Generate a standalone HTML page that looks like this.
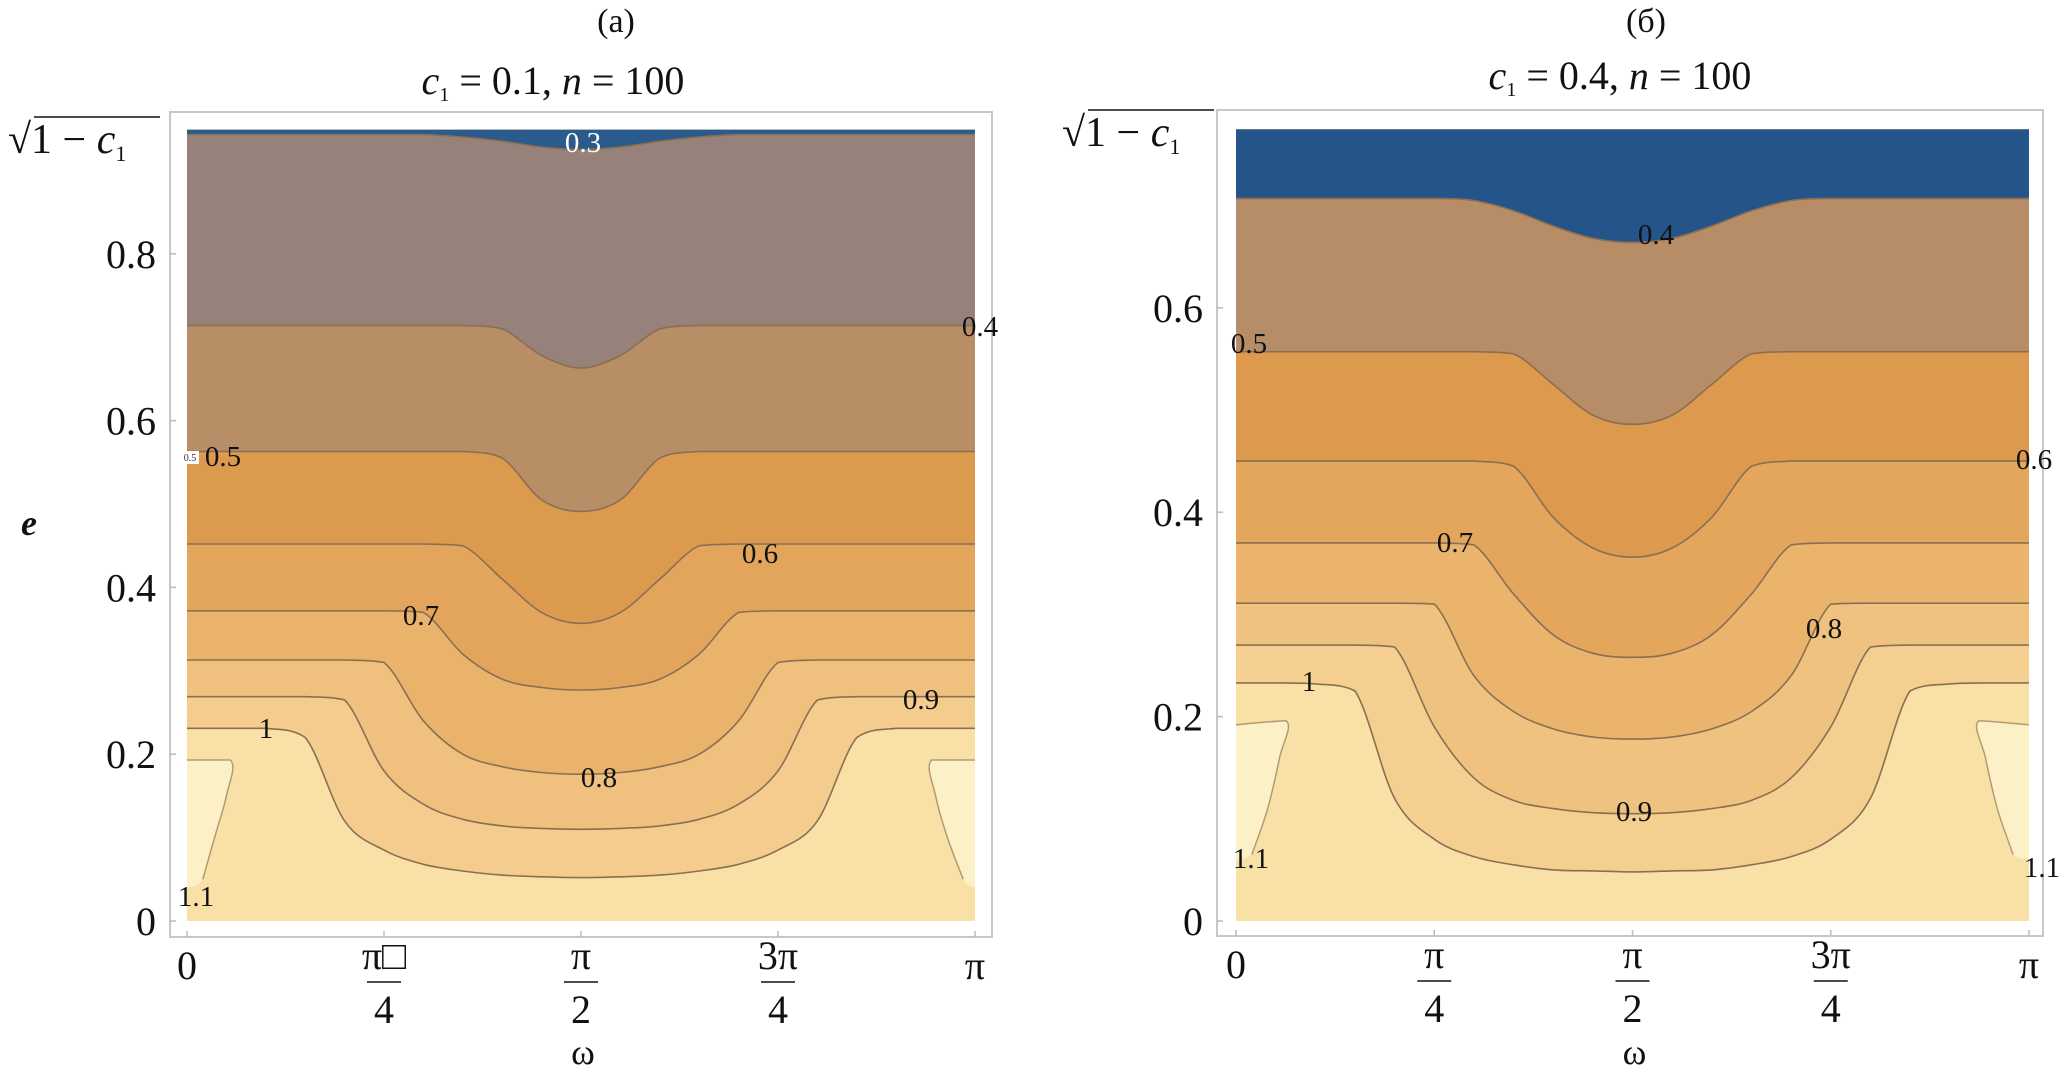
<!DOCTYPE html>
<html><head><meta charset="utf-8">
<style>
html,body{margin:0;padding:0;background:#fff;}
svg{display:block;font-family:"Liberation Serif",serif;}
</style></head>
<body>
<svg id="fig" width="2067" height="1071" viewBox="0 0 2067 1071" xmlns="http://www.w3.org/2000/svg">
<g id="panelA"></g>
<g id="panelB"></g>
</svg>
<script>
// omega nodes as fractions of pi
const omegaNodes = [0,0.05,0.1,0.15,0.2,0.25,0.3,0.35,0.4,0.45,0.5,0.55,0.6,0.65,0.7,0.75,0.8,0.85,0.9,0.95,1];
// Panel (a): c1=0.1 — contour e-values at each omega node
const levelsA = [0.3,0.4,0.5,0.6,0.7,0.8,0.9,1.0];
const contA_03 = [0.943,0.943,0.943,0.943,0.943,0.943,0.943,0.940,0.935,0.928,0.925,0.928,0.935,0.940,0.943,0.943,0.943,0.943,0.943,0.943,0.943];
const contA_04 = [0.714,0.714,0.714,0.714,0.714,0.714,0.714,0.714,0.710,0.678,0.663,0.678,0.710,0.714,0.714,0.714,0.714,0.714,0.714,0.714,0.714];
const contA_05 = [0.563,0.563,0.563,0.563,0.563,0.563,0.563,0.563,0.555,0.505,0.491,0.505,0.555,0.563,0.563,0.563,0.563,0.563,0.563,0.563,0.563];
const contA_06 = [0.452,0.452,0.452,0.452,0.452,0.452,0.452,0.450,0.410,0.370,0.357,0.370,0.410,0.450,0.452,0.452,0.452,0.452,0.452,0.452,0.452];
const contA_07 = [0.372,0.372,0.372,0.372,0.372,0.372,0.370,0.320,0.290,0.280,0.277,0.280,0.290,0.320,0.370,0.372,0.372,0.372,0.372,0.372,0.372];
const contA_08 = [0.313,0.313,0.313,0.313,0.313,0.310,0.240,0.200,0.185,0.178,0.176,0.178,0.185,0.200,0.240,0.310,0.313,0.313,0.313,0.313,0.313];
const contA_09 = [0.269,0.269,0.269,0.269,0.265,0.180,0.140,0.122,0.114,0.111,0.110,0.111,0.114,0.122,0.140,0.180,0.265,0.269,0.269,0.269,0.269];
const contA_10 = [0.231,0.231,0.231,0.220,0.120,0.085,0.068,0.060,0.055,0.053,0.052,0.053,0.055,0.060,0.068,0.085,0.120,0.220,0.231,0.231,0.231];
// 1.1 lobes: [omega, e] outlines
const lobeA_left = [[0,0.193],[0.055,0.193],[0.05,0.15],[0.035,0.10],[0.02,0.05],[0,0.04]];
const lobeA_right = [[1,0.193],[0.945,0.193],[0.95,0.15],[0.965,0.10],[0.985,0.05],[1,0.04]];
// Panel (б): c1=0.4
const levelsB = [0.4,0.5,0.6,0.7,0.8,0.9,1.0];
const contB_04 = [0.707,0.707,0.707,0.707,0.707,0.707,0.705,0.695,0.680,0.668,0.664,0.668,0.680,0.695,0.705,0.707,0.707,0.707,0.707,0.707,0.707];
const contB_05 = [0.557,0.557,0.557,0.557,0.557,0.557,0.557,0.555,0.525,0.495,0.486,0.495,0.525,0.555,0.557,0.557,0.557,0.557,0.557,0.557,0.557];
const contB_06 = [0.450,0.450,0.450,0.450,0.450,0.450,0.450,0.445,0.395,0.365,0.356,0.365,0.395,0.445,0.450,0.450,0.450,0.450,0.450,0.450,0.450];
const contB_07 = [0.370,0.370,0.370,0.370,0.370,0.370,0.368,0.320,0.280,0.262,0.258,0.262,0.280,0.320,0.368,0.370,0.370,0.370,0.370,0.370,0.370];
const contB_08 = [0.311,0.311,0.311,0.311,0.311,0.310,0.240,0.205,0.188,0.180,0.178,0.180,0.188,0.205,0.240,0.310,0.311,0.311,0.311,0.311,0.311];
const contB_09 = [0.270,0.270,0.270,0.270,0.268,0.190,0.140,0.118,0.110,0.106,0.105,0.106,0.110,0.118,0.140,0.190,0.268,0.270,0.270,0.270,0.270];
const contB_10 = [0.233,0.233,0.232,0.225,0.120,0.080,0.063,0.055,0.050,0.049,0.048,0.049,0.050,0.055,0.063,0.080,0.120,0.225,0.232,0.233,0.233];
const lobeB_left = [[0,0.192],[0.063,0.196],[0.055,0.16],[0.04,0.11],[0.02,0.065],[0,0.06]];
const lobeB_right = [[1,0.192],[0.937,0.196],[0.945,0.16],[0.96,0.11],[0.98,0.065],[1,0.06]];
const xTickLabels = ["0","π/4","π/2","3π/4","π"];
const xTickValues = [0,0.25,0.5,0.75,1];
const yTicksA = [0,0.2,0.4,0.6,0.8];
const yTicksB = [0,0.2,0.4,0.6];

const NS="http://www.w3.org/2000/svg";
function mk(parent,tag,attrs,text){const e=document.createElementNS(NS,tag);for(const k in attrs)e.setAttribute(k,attrs[k]);if(text!==undefined)e.textContent=text;parent.appendChild(e);return e;}
function clamp(v,a,b){const lo=Math.min(a,b),hi=Math.max(a,b);return Math.max(lo,Math.min(hi,v));}
function smooth(P){
  let d='';
  for(let i=0;i<P.length-1;i++){
    const p0=P[Math.max(i-1,0)],p1=P[i],p2=P[i+1],p3=P[Math.min(i+2,P.length-1)];
    const c1=[p1[0]+(p2[0]-p0[0])/6,clamp(p1[1]+(p2[1]-p0[1])/6,p1[1],p2[1])];
    const c2=[p2[0]-(p3[0]-p1[0])/6,clamp(p2[1]-(p3[1]-p1[1])/6,p1[1],p2[1])];
    d+=' C'+c1[0].toFixed(1)+','+c1[1].toFixed(1)+' '+c2[0].toFixed(1)+','+c2[1].toFixed(1)+' '+p2[0].toFixed(1)+','+p2[1].toFixed(1);
  }
  return d;
}

function drawPanel(g,cfg){
  const xs=w=>cfg.x0+w*(cfg.x1-cfg.x0);
  const ys=e=>cfg.yb-e*cfg.ppu;
  const top=ys(cfg.emax);
  const fr=mk(g,'rect',{x:cfg.fx0,y:cfg.fy0,width:cfg.fx1-cfg.fx0,height:cfg.fy1-cfg.fy0,fill:'none',stroke:'#c8c8c8','stroke-width':2});
  
  const bg=mk(g,'rect',{x:cfg.x0,y:top,width:cfg.x1-cfg.x0,height:cfg.yb-top,fill:cfg.bottomColor});
  
  const pathOf=c=>{const P=omegaNodes.map((w,j)=>[xs(w),ys(c[j])]);return {P:P,d:smooth(P)};};
  for(let i=cfg.conts.length-1;i>=0;i--){
    const r=pathOf(cfg.conts[i]);
    const d='M'+xs(0)+','+top+' L'+r.P[0][0].toFixed(1)+','+r.P[0][1].toFixed(1)+r.d+' L'+xs(1)+','+top+' Z';
    const p=mk(g,'path',{d:d,fill:cfg.colors[i],stroke:'none'});
    
  }
  for(let i=0;i<cfg.conts.length;i++){
    const r=pathOf(cfg.conts[i]);
    const d='M'+r.P[0][0].toFixed(1)+','+r.P[0][1].toFixed(1)+r.d;
    const p=mk(g,'path',{d:d,fill:'none',stroke:cfg.lineColor,'stroke-width':1.6});
    
  }
  for(const lobe of cfg.lobes){
    const P=lobe.map(q=>[xs(q[0]),ys(q[1])]);
    const d='M'+P[0][0].toFixed(1)+','+P[0][1].toFixed(1)+smooth(P)+' Z';
    const p=mk(g,'path',{d:d,fill:'#fcf0c6',stroke:'none'});
    
    const Q=P.slice(0,-1);
    const l=mk(g,'path',{d:'M'+Q[0][0].toFixed(1)+','+Q[0][1].toFixed(1)+smooth(Q),fill:'none',stroke:'#b49a70','stroke-width':1.5});
    
  }
  for(const lb of cfg.labels){
    const t=mk(g,'text',{x:lb[1],y:lb[2],'font-size':29,'text-anchor':'middle','dominant-baseline':'central',fill:lb[3]||'#111'},lb[0]);
    
  }
  cfg.yTicks.forEach(v=>{
    const y=ys(v);
    const tk=mk(g,'line',{x1:cfg.fx0,x2:cfg.fx0+6,y1:y,y2:y,stroke:'#bbb','stroke-width':1.5});
    
    const t=mk(g,'text',{x:cfg.fx0-14,y:y+14,'font-size':40,'text-anchor':'end',fill:'#111'},String(v));
    
  });
  const sq=mk(g,'text',{x:cfg.sqX,y:cfg.sqY+14,'font-size':42,fill:'#111'});
  
  mk(sq,'tspan',{},'√1 − ');mk(sq,'tspan',{'font-style':'italic'},'c');mk(sq,'tspan',{'font-size':22,dy:8},'1');
  mk(g,'line',{x1:cfg.sqX+26,x2:cfg.sqX+152,y1:cfg.sqY-22,y2:cfg.sqY-22,stroke:'#111','stroke-width':1.5});
  xTickValues.forEach((v,i)=>{
    const x=xs(v);
    const tk=mk(g,'line',{x1:x,x2:x,y1:cfg.fy1,y2:cfg.fy1-6,stroke:'#bbb','stroke-width':1.5});
    
    const lab=xTickLabels[i];
    if(lab.indexOf('/')<0){
      const t=mk(g,'text',{x:x,y:cfg.fy1+42,'font-size':40,'text-anchor':'middle',fill:'#111'},lab);
      
    }else{
      const parts=lab.split('/');
      const t=mk(g,'text',{x:x,y:cfg.fy1+32,'font-size':40,'text-anchor':'middle',fill:'#111'},parts[0]+(cfg.box&&i===1?'□':''));
      
      mk(g,'line',{x1:x-17,x2:x+17,y1:cfg.fy1+45,y2:cfg.fy1+45,stroke:'#111','stroke-width':1.5});
      const t2=mk(g,'text',{x:x,y:cfg.fy1+86,'font-size':40,'text-anchor':'middle',fill:'#111'},parts[1]);
      
    }
  });
  const xt=mk(g,'text',{x:xs(0.5)+2,y:1064,'font-size':36,'text-anchor':'middle',fill:'#111'},'ω');
  
  const pl=mk(g,'text',{x:cfg.capX,y:32,'font-size':34,'text-anchor':'middle',fill:'#111'},cfg.cap);
  
  const ti=mk(g,'text',{x:cfg.titleX,y:cfg.titleY,'font-size':40,'text-anchor':'middle',fill:'#111'});
  
  mk(ti,'tspan',{'font-style':'italic'},'c');mk(ti,'tspan',{'font-size':20,dy:7},'1');
  mk(ti,'tspan',{dy:-7},' = '+cfg.c1+',  ');mk(ti,'tspan',{'font-style':'italic'},'n');mk(ti,'tspan',{},' = 100');
}

const gA=document.getElementById('panelA');
drawPanel(gA,{
  x0:187,x1:975,yb:921,ppu:834,emax:0.9487,fx0:170,fx1:992,fy0:112,fy1:937,
  levels:levelsA,conts:[contA_03,contA_04,contA_05,contA_06,contA_07,contA_08,contA_09,contA_10],
  colors:['#2b5a8c','#96827a','#b78e66','#dc9a4f','#e3a55c','#e9b36c','#efc07e','#f4cd8e'],
  bottomColor:'#f9e0a6',lineColor:'#8a6f52',lobes:[lobeA_left,lobeA_right],
  labels:[['0.3',583,143,'#fff'],['0.4',980,327],['0.5',223,457],['0.6',760,554],['0.7',421,616],['0.8',599,778],['0.9',921,700],['1',266,729],['1.1',196,897]],
  yTicks:yTicksA,capX:616,cap:'(a)',titleX:553,titleY:94,c1:'0.1',box:true,sqX:8,sqY:139
});
const sb=mk(gA,'rect',{x:181,y:451,width:18,height:13,fill:'#fff'});

const st=mk(gA,'text',{x:190,y:461,'font-size':10,'text-anchor':'middle',fill:'#333'},'0.5');

const ey=mk(gA,'text',{x:29,y:535,'font-size':36,'font-style':'italic','font-weight':'bold','text-anchor':'middle',fill:'#111'},'e');


drawPanel(document.getElementById('panelB'),{
  x0:1236,x1:2029,yb:921,ppu:1022,emax:0.7746,fx0:1217,fx1:2043,fy0:110,fy1:936,
  levels:levelsB,conts:[contB_04,contB_05,contB_06,contB_07,contB_08,contB_09,contB_10],
  colors:['#24548a','#b68d66','#dd9a4e','#e4a65c','#eab46d','#f0c27f','#f5cf90'],
  bottomColor:'#f9e0a6',lineColor:'#8a6f52',lobes:[lobeB_left,lobeB_right],
  labels:[['0.4',1656,235],['0.5',1249,344],['0.6',2034,460],['0.7',1455,543],['0.8',1824,629],['0.9',1634,812],['1',1309,682],['1.1',1251,859],['1.1',2042,868]],
  yTicks:yTicksB,capX:1646,cap:'(б)',titleX:1620,titleY:89,c1:'0.4',box:false,sqX:1062,sqY:132
});
</script>
</body></html>
